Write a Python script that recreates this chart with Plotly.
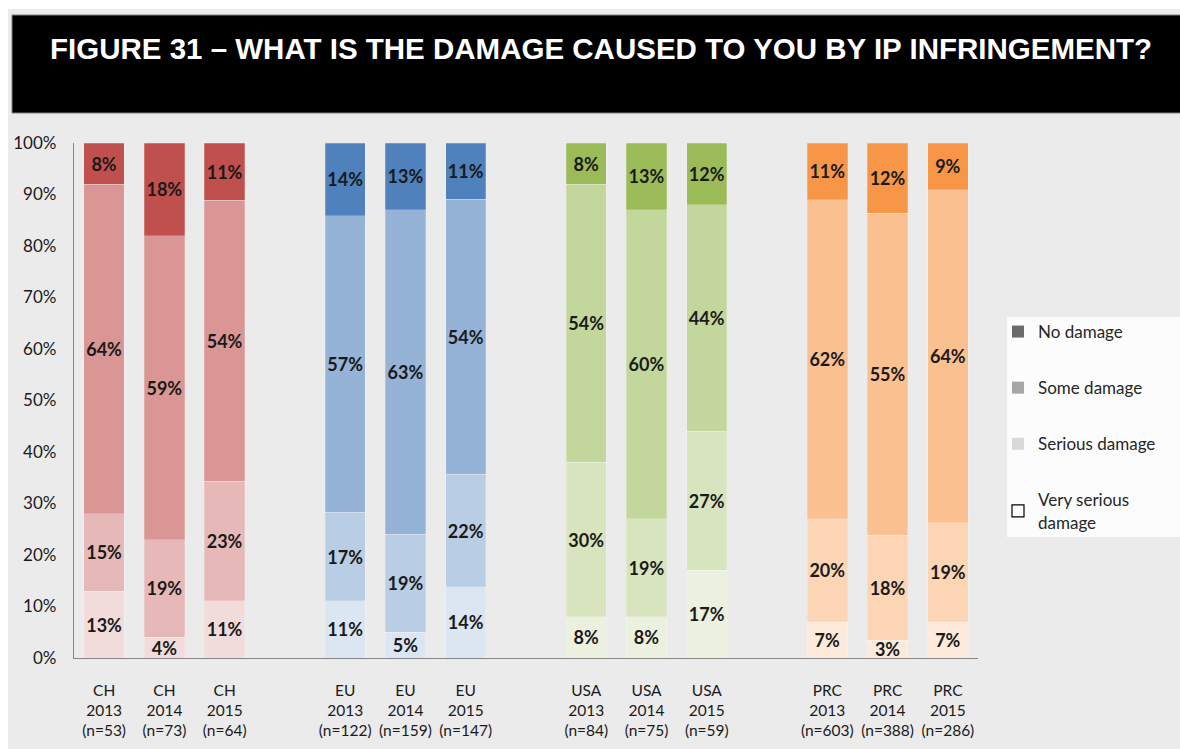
import plotly.graph_objects as go

# ---------------- data ----------------
regions = ["CH", "EU", "USA", "PRC"]
years = ["2013", "2014", "2015"]
sample_sizes = {
    "CH": [53, 73, 64],
    "EU": [122, 159, 147],
    "USA": [84, 75, 59],
    "PRC": [603, 388, 286],
}
levels = ["Very serious damage", "Serious damage", "Some damage", "No damage"]

very_serious = {"CH": [13, 4, 11], "EU": [11, 5, 14], "USA": [8, 8, 17], "PRC": [7, 3, 7]}
serious = {"CH": [15, 19, 23], "EU": [17, 19, 22], "USA": [30, 19, 27], "PRC": [20, 18, 19]}
some = {"CH": [64, 59, 54], "EU": [57, 63, 54], "USA": [54, 60, 44], "PRC": [62, 55, 64]}
no_damage = {"CH": [8, 18, 11], "EU": [14, 13, 11], "USA": [8, 13, 12], "PRC": [11, 12, 9]}
series = [very_serious, serious, some, no_damage]

# colours per region, ordered like `levels` (light -> dark)
region_colors = {
    "CH": ["#f2dcdb", "#e6b9b8", "#d99694", "#c0504d"],
    "EU": ["#dce6f2", "#b9cde5", "#95b3d7", "#4f81bd"],
    "USA": ["#ebf1de", "#d7e4bd", "#c3d69b", "#9bbb59"],
    "PRC": ["#fdeada", "#fcd5b5", "#fac090", "#f79646"],
}
legend_labels = ["No damage", "Some damage", "Serious damage", "Very serious<br>damage"]
legend_colors = ["#6b6b6b", "#a6a6a6", "#d9d9d9", "#ffffff"]

ytick_vals = list(range(0, 101, 10))
ytick_text = [f"{v}%" for v in ytick_vals]

# ---------------- layout helpers ----------------
W, H = 1180, 749
L, R, T, B = 74, 202, 143, 91
PW, PH = W - L - R, H - T - B


def px_x(px):
    return (px - L) / PW


def px_y(py):
    return (H - B - py) / PH


FONT = "Lato, Noto Sans, sans-serif"
TXT = "#1a1a1a"

# x positions: 3 bars per region, one empty slot between regions
xpos, xlabels = [], []
for g, reg in enumerate(regions):
    for i, yr in enumerate(years):
        xpos.append(g * 4 + i)
        xlabels.append(f"{reg}<br>{yr}<br>(n={sample_sizes[reg][i]})")

fig = go.Figure()

for li, lvl in enumerate(levels):
    vals, cols = [], []
    for reg in regions:
        vals += series[li][reg]
        cols += [region_colors[reg][li]] * 3
    fig.add_trace(go.Bar(
        x=xpos, y=vals, name=lvl, showlegend=False,
        marker=dict(color=cols, line=dict(width=0.6, color="rgba(255,255,255,0.35)")),
        text=[f"{v}%" for v in vals], texttemplate="%{text}",
        textposition="inside", insidetextanchor="middle", textangle=0,
        constraintext="none",
        textfont=dict(family=FONT, size=18, color=TXT, weight="bold"),
        hovertemplate="%{text}<extra>" + lvl + "</extra>",
    ))

# legend entries (grey keys as in the original)
for name, col in zip(legend_labels, legend_colors):
    fig.add_trace(go.Bar(
        x=[None], y=[None], name=name, legendgroup=name, showlegend=True,
        marker=dict(color=col, line=dict(width=1.2 if col == "#ffffff" else 0, color="#000000")),
    ))

shapes = [
    # grey background panel
    dict(type="rect", xref="paper", yref="paper", layer="below",
         x0=px_x(8), x1=px_x(1181), y0=px_y(750), y1=px_y(9),
         fillcolor="#ebebeb", line=dict(width=0)),
    # black title banner
    dict(type="rect", xref="paper", yref="paper", layer="below",
         x0=px_x(12), x1=px_x(1182), y0=px_y(113), y1=px_y(15),
         fillcolor="#000000", line=dict(width=1, color="#7f7f7f")),
    # white legend panel
    dict(type="rect", xref="paper", yref="paper", layer="below",
         x0=px_x(1007), x1=px_x(1182), y0=px_y(537), y1=px_y(317),
         fillcolor="#fcfcfc", line=dict(width=0)),
]

annotations = [
    dict(text="<b>FIGURE 31 – WHAT IS THE DAMAGE CAUSED TO YOU BY IP INFRINGEMENT?</b>",
         xref="paper", yref="paper", x=px_x(601), y=px_y(48),
         xanchor="center", yanchor="middle", showarrow=False,
         font=dict(family="Liberation Sans, Arial, sans-serif", size=29.5, color="#ffffff")),
]

fig.update_layout(
    width=W, height=H, autosize=False,
    margin=dict(l=L, r=R, t=T, b=B, pad=0, autoexpand=False),
    paper_bgcolor="#ffffff", plot_bgcolor="rgba(0,0,0,0)",
    barmode="stack", barnorm="percent", bargap=0.33,
    shapes=shapes, annotations=annotations,
    showlegend=True,
    legend=dict(
        x=px_x(998), y=px_y(314), xanchor="left", yanchor="top",
        bgcolor="rgba(0,0,0,0)", borderwidth=0,
        font=dict(family=FONT, size=17, color="#262626"),
        traceorder="grouped", tracegroupgap=31, itemwidth=30,
    ),
    xaxis=dict(
        range=[-0.5, 14.5], tickmode="array", tickvals=xpos, ticktext=xlabels,
        showline=True, linecolor="#868686", linewidth=1.3, ticks="",
        showgrid=False, zeroline=False, ticklabelstandoff=18, automargin=False,
        tickfont=dict(family=FONT, size=15.5, color=TXT), fixedrange=True,
    ),
    yaxis=dict(
        range=[0, 100], tickmode="array", tickvals=ytick_vals, ticktext=ytick_text,
        showline=True, linecolor="#868686", linewidth=1.3, ticks="",
        showgrid=False, zeroline=False, ticklabelstandoff=13, automargin=False,
        tickfont=dict(family=FONT, size=17, color=TXT), fixedrange=True,
    ),
    uniformtext=dict(mode=False),
)

fig.write_html(
    "out.html",
    config={"displayModeBar": False},
    post_script="document.body.style.margin='0';document.body.style.overflow='hidden';",
)
